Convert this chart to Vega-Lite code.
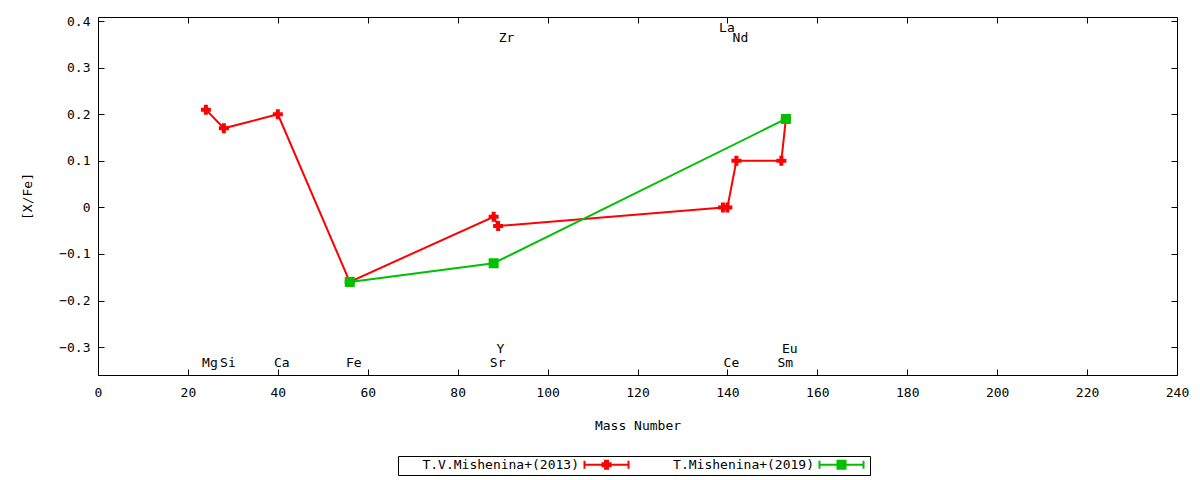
{
  "$schema": "https://vega.github.io/schema/vega-lite/v6.json",
  "width": 1079,
  "height": 358,
  "autosize": {"type": "none"},
  "padding": {"left": 98, "top": 17, "right": 23, "bottom": 105},
  "background": "white",
  "datasets": {
    "abund": [
      {"series": "T.V.Mishenina+(2013)", "elem": "Mg", "mass": 24, "val": 0.21},
      {"series": "T.V.Mishenina+(2013)", "elem": "Si", "mass": 28, "val": 0.17},
      {"series": "T.V.Mishenina+(2013)", "elem": "Ca", "mass": 40, "val": 0.2},
      {"series": "T.V.Mishenina+(2013)", "elem": "Fe", "mass": 56, "val": -0.16},
      {"series": "T.V.Mishenina+(2013)", "elem": "Sr", "mass": 88, "val": -0.02},
      {"series": "T.V.Mishenina+(2013)", "elem": "Y", "mass": 89, "val": -0.04},
      {"series": "T.V.Mishenina+(2013)", "elem": "La", "mass": 139, "val": 0},
      {"series": "T.V.Mishenina+(2013)", "elem": "Ce", "mass": 140, "val": 0},
      {"series": "T.V.Mishenina+(2013)", "elem": "Nd", "mass": 142, "val": 0.1},
      {"series": "T.V.Mishenina+(2013)", "elem": "Sm", "mass": 152, "val": 0.1},
      {"series": "T.V.Mishenina+(2013)", "elem": "Eu", "mass": 153, "val": 0.19},
      {"series": "T.Mishenina+(2019)", "elem": "Fe", "mass": 56, "val": -0.16},
      {"series": "T.Mishenina+(2019)", "elem": "Sr", "mass": 88, "val": -0.12},
      {"series": "T.Mishenina+(2019)", "elem": "Eu", "mass": 153, "val": 0.19}
    ],
    "labels": [
      {"elem": "Mg", "mass": 24, "pos": -0.334},
      {"elem": "Si", "mass": 28, "pos": -0.334},
      {"elem": "Ca", "mass": 40, "pos": -0.334},
      {"elem": "Fe", "mass": 56, "pos": -0.334},
      {"elem": "Sr", "mass": 88, "pos": -0.334},
      {"elem": "Y", "mass": 88.6, "pos": -0.304},
      {"elem": "Ce", "mass": 140, "pos": -0.334},
      {"elem": "Sm", "mass": 152, "pos": -0.334},
      {"elem": "Eu", "mass": 153, "pos": -0.304},
      {"elem": "Zr", "mass": 90, "pos": 0.363},
      {"elem": "La", "mass": 139, "pos": 0.385},
      {"elem": "Nd", "mass": 142, "pos": 0.363}
    ]
  },
  "resolve": {"axis": {"x": "independent", "y": "independent"}},
  "layer": [
    {
      "data": {"name": "labels"},
      "mark": {"type": "text", "fontSize": 13, "font": "DejaVu Sans Mono", "dx": 4, "color": "black"},
      "encoding": {
        "x": {
          "field": "mass",
          "type": "quantitative",
          "axis": {"orient": "top", "labels": false, "title": null, "tickSize": -6, "values": [0, 20, 40, 60, 80, 100, 120, 140, 160, 180, 200, 220, 240]}
        },
        "y": {
          "field": "pos",
          "type": "quantitative",
          "axis": {"orient": "right", "labels": false, "title": null, "tickSize": -6, "values": [-0.3, -0.2, -0.1, 0, 0.1, 0.2, 0.3, 0.4]}
        },
        "text": {"field": "elem"}
      }
    },
    {
      "data": {"name": "abund"},
      "mark": {"type": "line", "strokeWidth": 2},
      "encoding": {
        "x": {
          "field": "mass",
          "type": "quantitative",
          "axis": {
            "title": "Mass Number",
            "values": [0, 20, 40, 60, 80, 100, 120, 140, 160, 180, 200, 220, 240],
            "tickSize": -6,
            "labelFlush": false,
            "labelPadding": 17,
            "titlePadding": 20
          }
        },
        "y": {
          "field": "val",
          "type": "quantitative",
          "axis": {
            "title": "[X/Fe]",
            "values": [-0.3, -0.2, -0.1, 0, 0.1, 0.2, 0.3, 0.4],
            "format": "~g",
            "tickSize": -6,
            "labelPadding": 14,
            "titlePadding": 24
          }
        },
        "color": {
          "field": "series",
          "type": "nominal",
          "scale": {"domain": ["T.V.Mishenina+(2013)", "T.Mishenina+(2019)"], "range": ["#ff0000", "#00c000"]},
          "legend": {
            "title": null,
            "orient": "none",
            "legendX": 300,
            "legendY": 439,
            "direction": "horizontal",
            "columns": 2,
            "strokeColor": "black",
            "padding": 2,
            "symbolSize": 100,
            "symbolStrokeWidth": 2,
            "symbolOffset": 200,
            "labelAlign": "right",
            "labelOffset": -34,
            "labelExpr": "'  ' + datum.label",
            "columnPadding": 2,
            "labelFont": "DejaVu Sans Mono",
            "labelFontSize": 13,
            "labelColor": "black",
            "labelLimit": 0,
            "encode": {
              "symbols": {
                "update": {
                  "shape": {"signal": "datum.value == 'T.V.Mishenina+(2013)' ? 'M-4.4,0H4.4M-4.4,-0.8V0.8M4.4,-0.8V0.8M-0.8,-0.3H-0.3V-0.8H0.3V-0.3H0.8V0.3H0.3V0.8H-0.3V0.3H-0.8Z' : 'M-4.4,0H4.4M-4.4,-0.8V0.8M4.4,-0.8V0.8M-0.8,-0.8H0.8V0.8H-0.8Z'"},
                  "stroke": {"scale": "color", "field": "value"},
                  "fill": {"scale": "color", "field": "value"}
                }
              }
            }
          }
        }
      }
    },
    {
      "data": {"name": "abund"},
      "transform": [{"filter": "datum.series == 'T.V.Mishenina+(2013)'"}],
      "mark": {"type": "point", "filled": true, "opacity": 1, "shape": "cross", "size": 100, "color": "#ff0000"},
      "encoding": {
        "x": {"field": "mass", "type": "quantitative", "axis": null},
        "y": {"field": "val", "type": "quantitative", "axis": null}
      }
    },
    {
      "data": {"name": "abund"},
      "transform": [{"filter": "datum.series == 'T.Mishenina+(2019)'"}],
      "mark": {"type": "point", "filled": true, "opacity": 1, "shape": "square", "size": 100, "color": "#00c000"},
      "encoding": {
        "x": {"field": "mass", "type": "quantitative", "axis": null},
        "y": {"field": "val", "type": "quantitative", "axis": null}
      }
    }
  ],
  "encoding": {
    "x": {
      "field": "mass",
      "type": "quantitative",
      "scale": {"domain": [0, 240], "nice": false, "zero": false}
    },
    "y": {
      "field": "val",
      "type": "quantitative",
      "scale": {"domain": [-0.36, 0.409], "nice": false, "zero": false}
    }
  },
  "config": {
    "view": {"stroke": "black", "strokeWidth": 1},
    "axis": {
      "grid": false,
      "domain": false,
      "tickColor": "black",
      "labelFont": "DejaVu Sans Mono",
      "labelFontSize": 13,
      "labelColor": "black",
      "titleFont": "DejaVu Sans Mono",
      "titleFontSize": 13,
      "titleFontWeight": "normal",
      "titleColor": "black"
    }
  }
}
